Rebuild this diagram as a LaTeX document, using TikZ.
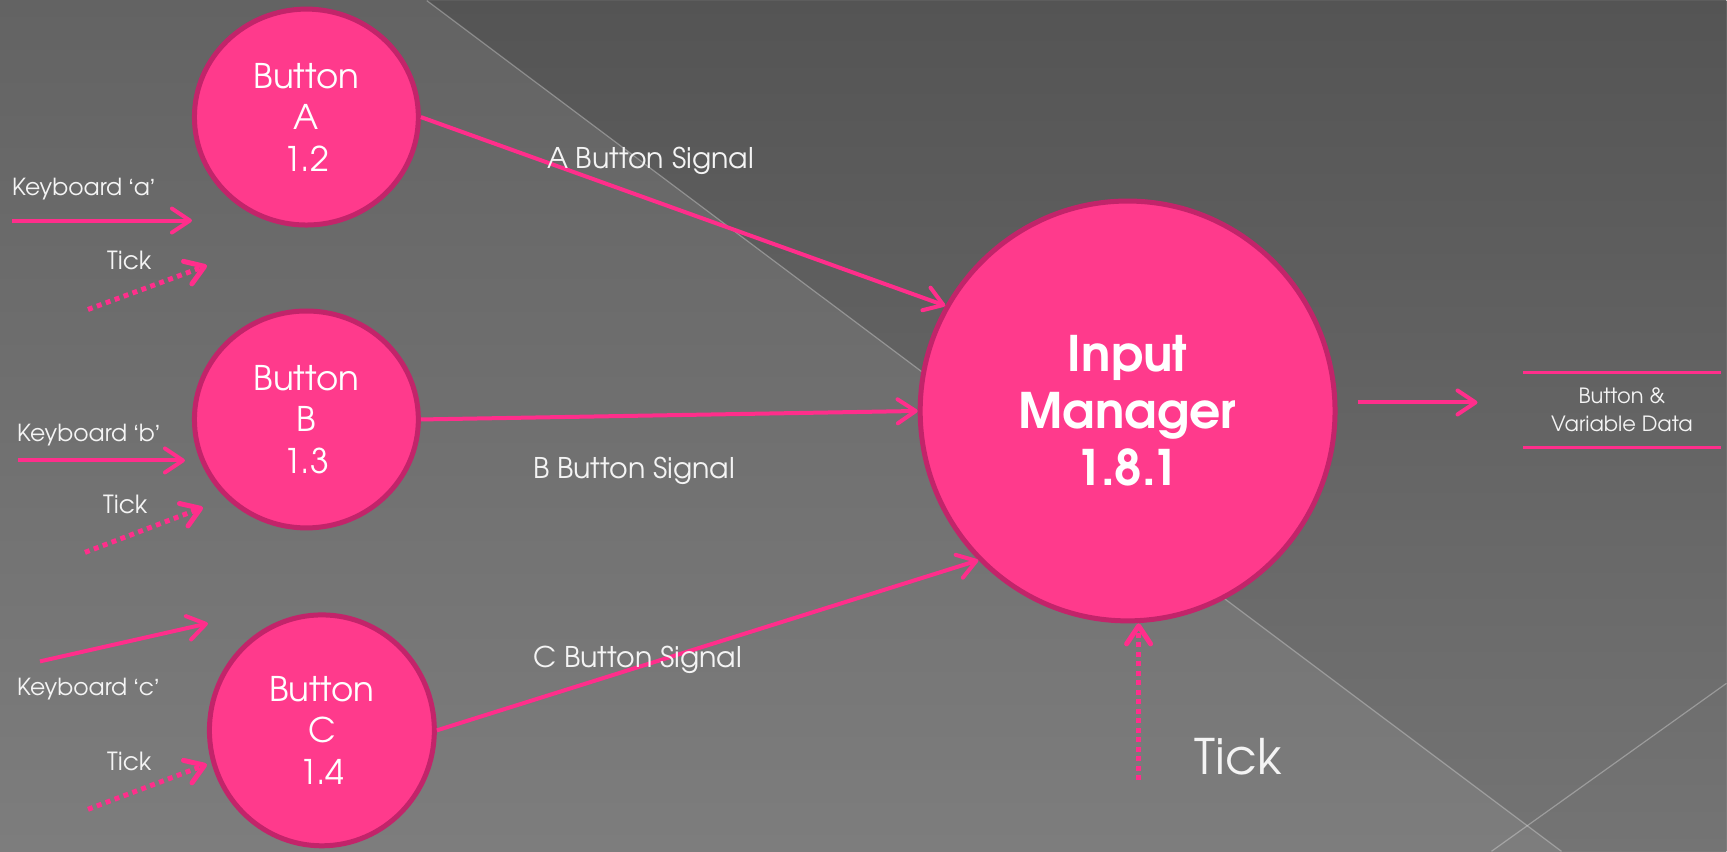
\documentclass[tikz,border=0pt]{standalone}
\usepackage{fontspec}
\setmainfont{TeX Gyre Adventor}
\newfontfamily\quotefont{Liberation Sans}
\newcommand{\myopenq}{{\quotefont ‘}}
\newcommand{\myclosq}{{\quotefont ’}}
\usetikzlibrary{shapes.geometric,arrows.meta}
\definecolor{pinkfill}{HTML}{FF3A8C}
\definecolor{pinkedge}{HTML}{C2246A}
\definecolor{pinkline}{HTML}{FF2E8B}
\definecolor{txt}{HTML}{F4F4F4}
\definecolor{bgtop}{HTML}{636363}
\definecolor{bgbot}{HTML}{7D7D7D}
\definecolor{dktop}{HTML}{545454}
\definecolor{dkbot}{HTML}{747474}
\begin{document}
\begin{tikzpicture}[x=1pt,y=-1pt,
  bubble/.style={ellipse, draw=pinkedge, line width=5pt, fill=pinkfill, inner sep=0pt,
    text=white, align=center, font=\fontsize{34}{41.5}\selectfont},
  flow/.style={draw=pinkline, line width=4pt, -{Straight Barb[length=18pt,width=24pt,round]}},
  tickflow/.style={flow, line width=5pt, dash pattern=on 5pt off 4.5pt},
  lbl/.style={text=txt, anchor=base west, inner sep=0pt, font=\fontsize{23.5}{28}\selectfont},
  siglbl/.style={text=txt, anchor=base west, inner sep=0pt, font=\fontsize{28.5}{34}\selectfont},
  bgline/.style={draw=white, opacity=0.3, line width=1.2pt}]

% background
\shade[top color=bgtop, bottom color=bgbot] (0,0) rectangle (1727,851);
\shade[top color=dktop, bottom color=dkbot] (427,0) -- (1727,0) -- (1727,851) -- (1562,851) -- cycle;
\draw[bgline] (427,0) -- (1562,851);
\draw[bgline] (1727,683) -- (1492,851);
\useasboundingbox (0,0) rectangle (1727,851);

% processes
\node[bubble, minimum width=224pt, minimum height=216pt] (A) at (306.5,116.5) {Button\\A\\1.2};
\node[bubble, minimum width=224pt, minimum height=217pt] (B) at (306.5,419) {Button\\B\\1.3};
\node[bubble, minimum width=225pt, minimum height=231pt] (C) at (322,730) {Button\\C\\1.4};
\node[bubble, minimum width=415pt, minimum height=420pt,
  font=\bfseries\fontsize{49}{57}\selectfont] (IM) at (1128,410.5) {Input\\Manager\\1.8.1};

% data store
\node[minimum width=197pt, minimum height=75pt, inner sep=0pt, align=center, text=txt,
  font=\fontsize{21}{28}\selectfont] (store) at (1622.5,409.5) {Button \&\\Variable Data};
\draw[pinkline, line width=2.5pt] (store.north west) -- (store.north east);
\draw[pinkline, line width=2.5pt] (store.south west) -- (store.south east);

% signals
\draw[flow] (A.east) -- (IM.150);
\draw[flow] (B.east) -- (IM.west);
\draw[flow] (C.east) -- (IM.225);
\node[siglbl] (sa) at (547,168) {A Button Signal};
\node[siglbl] (sb) at (533,478) {B Button Signal};
\node[siglbl] (sc) at (533,667) {C Button Signal};

% output
\coordinate (o1) at (1358,402);
\coordinate (o2) at (1478,402);
\draw[flow] (o1) -- (o2);

% keyboard inputs
\coordinate (ka1) at (12,220);  \coordinate (ka2) at (192,220);
\coordinate (kb1) at (18,460);  \coordinate (kb2) at (185,460);
\coordinate (kc1) at (40,661);  \coordinate (kc2) at (208,623);
\draw[flow] (ka1) -- (ka2);
\draw[flow] (kb1) -- (kb2);
\draw[flow] (kc1) -- (kc2);
\node[lbl] (la) at (12,195) {Keyboard \myopenq a\myclosq};
\node[lbl] (lb) at (17,441) {Keyboard \myopenq b\myclosq};
\node[lbl] (lc) at (17,695) {Keyboard \myopenq c\myclosq};

% ticks
\coordinate (ta1) at (88,309);  \coordinate (ta2) at (207,265);
\coordinate (tb1) at (85,552);  \coordinate (tb2) at (203,507);
\coordinate (tc1) at (88,809);  \coordinate (tc2) at (207,764);
\draw[tickflow] (ta1) -- (ta2);
\draw[tickflow] (tb1) -- (tb2);
\draw[tickflow] (tc1) -- (tc2);
\node[lbl, font=\fontsize{25}{30}\selectfont] (tka) at (107,269) {Tick};
\node[lbl, font=\fontsize{25}{30}\selectfont] (tkb) at (103,513) {Tick};
\node[lbl, font=\fontsize{25}{30}\selectfont] (tkc) at (107,770) {Tick};

\coordinate (tim) at (1139,780);
\draw[tickflow] (tim) -- (tim |- IM.south);
\node[lbl, font=\fontsize{49}{57}\selectfont] (tkim) at (1195,774) {Tick};
\end{tikzpicture}
\end{document}
